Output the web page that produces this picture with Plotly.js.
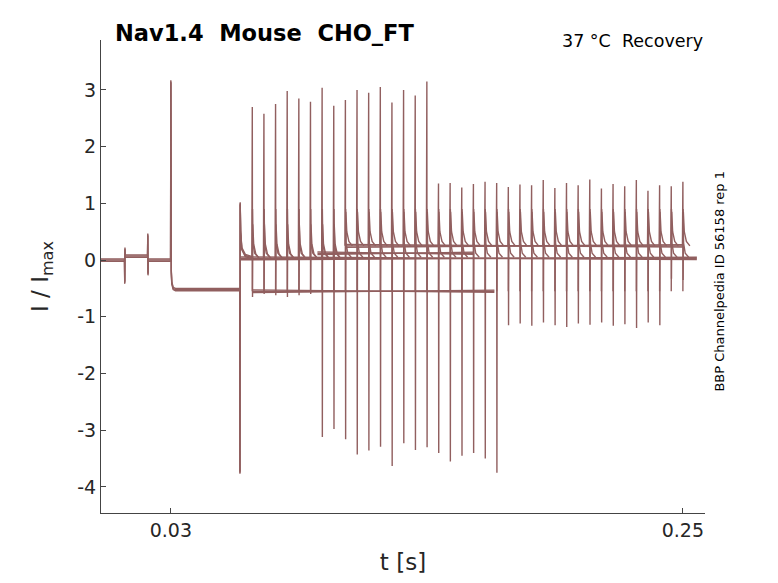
<!DOCTYPE html>
<html><head><meta charset="utf-8">
<script src="https://cdn.plot.ly/plotly-3.0.1.min.js"></script>
<style>body{margin:0}#c{width:778px;height:583px}</style></head>
<body><div id="c"></div>
<script>
// common part of every sweep: [time (s), level]
const commonT = [0.0000,0.0101,0.0102,0.0103,0.0104,0.0200,0.0201,0.0202,0.0203,0.0299,0.0300,0.0301,0.0302,0.0304,0.0310,0.0320,0.0596,0.0597,0.0598,0.0600,0.0605,0.0620,0.0650];
const commonY = [0.0,0.0,-0.4,0.2,0.07,0.07,0.45,-0.25,0.0,0.0,3.15,1.0,-0.2,-0.4,-0.5,-0.52,-0.52,-3.75,1.0,0.5,0.2,0.08,0.04];
// test-pulse spike times and peaks
const spikeT = [0.065,0.070,0.075,0.080,0.085,0.090,0.095,0.100,0.105,0.110,0.115,0.120,0.125,0.130,0.135,0.140,0.145,0.150,0.155,0.160,0.165,0.170,0.175,0.180,0.185,0.190,0.195,0.200,0.205,0.210,0.215,0.220,0.225,0.230,0.235,0.240,0.245,0.250];
const upPeak = [2.70,2.58,2.75,2.98,2.85,2.79,3.04,2.72,2.82,3.00,2.95,3.05,2.78,3.00,2.90,3.15,1.35,1.36,1.28,1.34,1.38,1.36,1.29,1.33,1.32,1.41,1.27,1.36,1.32,1.42,1.26,1.34,1.30,1.41,1.22,1.32,1.30,1.38];
const downPeak = [-0.65,-0.6,-0.62,-0.65,-0.62,-0.6,-3.12,-2.98,-3.16,-3.43,-3.36,-3.29,-3.63,-3.23,-3.35,-3.3,-3.4,-3.55,-3.45,-3.4,-3.5,-3.75,-1.15,-1.12,-1.16,-1.1,-1.15,-1.18,-1.12,-1.14,-1.1,-1.16,-1.13,-1.2,-1.1,-1.15,-0.33,-0.35];
// baseline segments after the prepulse: [start, end, level]
const segStart = [0.0650,0.0600,0.1050,0.0930];
const segEnd   = [0.1690,0.2560,0.2500,0.1600];
const segLevel = [-0.55,0.03,0.25,0.12];

const x=[], y=[];
for(let k=0;k<3;k++){ commonT.forEach((t,i)=>{x.push(t);y.push(commonY[i]+ (k-1)*0.02);}); x.push(null);y.push(null); }
segStart.forEach((s,i)=>{
  for(let k=0;k<3;k++){x.push(s,segEnd[i],null);y.push(segLevel[i]+(k-1)*0.025,segLevel[i]-(k-1)*0.02,null);}
});
spikeT.forEach((t,i)=>{
  const base = t>=0.105 ? 0.25 : 0.03;
  x.push(t-0.0002,t,t+0.0001,t+0.0002,t+0.0006,t+0.0015,t+0.003,null);
  y.push(base,upPeak[i],downPeak[i],base+0.6,base+0.25,base+0.08,base,null);
  x.push(t,t+0.0001,t+0.0003,t+0.001,t+0.0025,null);
  y.push(-0.55,0.9,0.3,0.12,0.05,null);
});

const col='rgb(145,95,95)';
Plotly.newPlot('c',[{x,y,mode:'lines',type:'scatter',line:{color:col,width:1.4},hoverinfo:'skip',connectgaps:false}],{
  width:778,height:583,margin:{l:101,r:73,t:40,b:70},
  paper_bgcolor:'white',plot_bgcolor:'white',showlegend:false,
  font:{family:'DejaVu Sans',color:'#262626'},
  xaxis:{range:[0,0.2595],tickvals:[0.03,0.25],ticktext:['0.03','0.25'],ticks:'inside',ticklen:5,tickcolor:'#444',
    showline:true,linecolor:'#444',showgrid:false,zeroline:false,tickfont:{size:19},
    title:{text:'t [s]',font:{size:23},standoff:14}},
  yaxis:{range:[-4.46,3.88],tickvals:[3,2,1,0,-1,-2,-3,-4],ticktext:['3','2','1','0','-1','-2','-3','-4'],ticks:'inside',ticklen:5,tickcolor:'#444',
    showline:true,linecolor:'#444',showgrid:false,zeroline:false,tickfont:{size:19},
    title:{text:'I / I<sub>max</sub>',font:{size:23},standoff:22}},
  annotations:[
    {text:'<b>Nav1.4  Mouse  CHO_FT</b>',xref:'paper',yref:'paper',x:0.02,y:1.015,xanchor:'left',yanchor:'middle',showarrow:false,font:{size:22.5,color:'black'}},
    {text:'37 °C  Recovery',xref:'paper',yref:'paper',x:1.0,y:0.998,xanchor:'right',yanchor:'middle',showarrow:false,font:{size:17.5,color:'black'}},
    {text:'BBP Channelpedia ID 56158 rep 1',xref:'paper',yref:'paper',x:1.008,y:0.49,xanchor:'left',yanchor:'middle',textangle:-90,showarrow:false,font:{size:13,color:'black'}}
  ]
},{displayModeBar:false});
</script></body></html>
